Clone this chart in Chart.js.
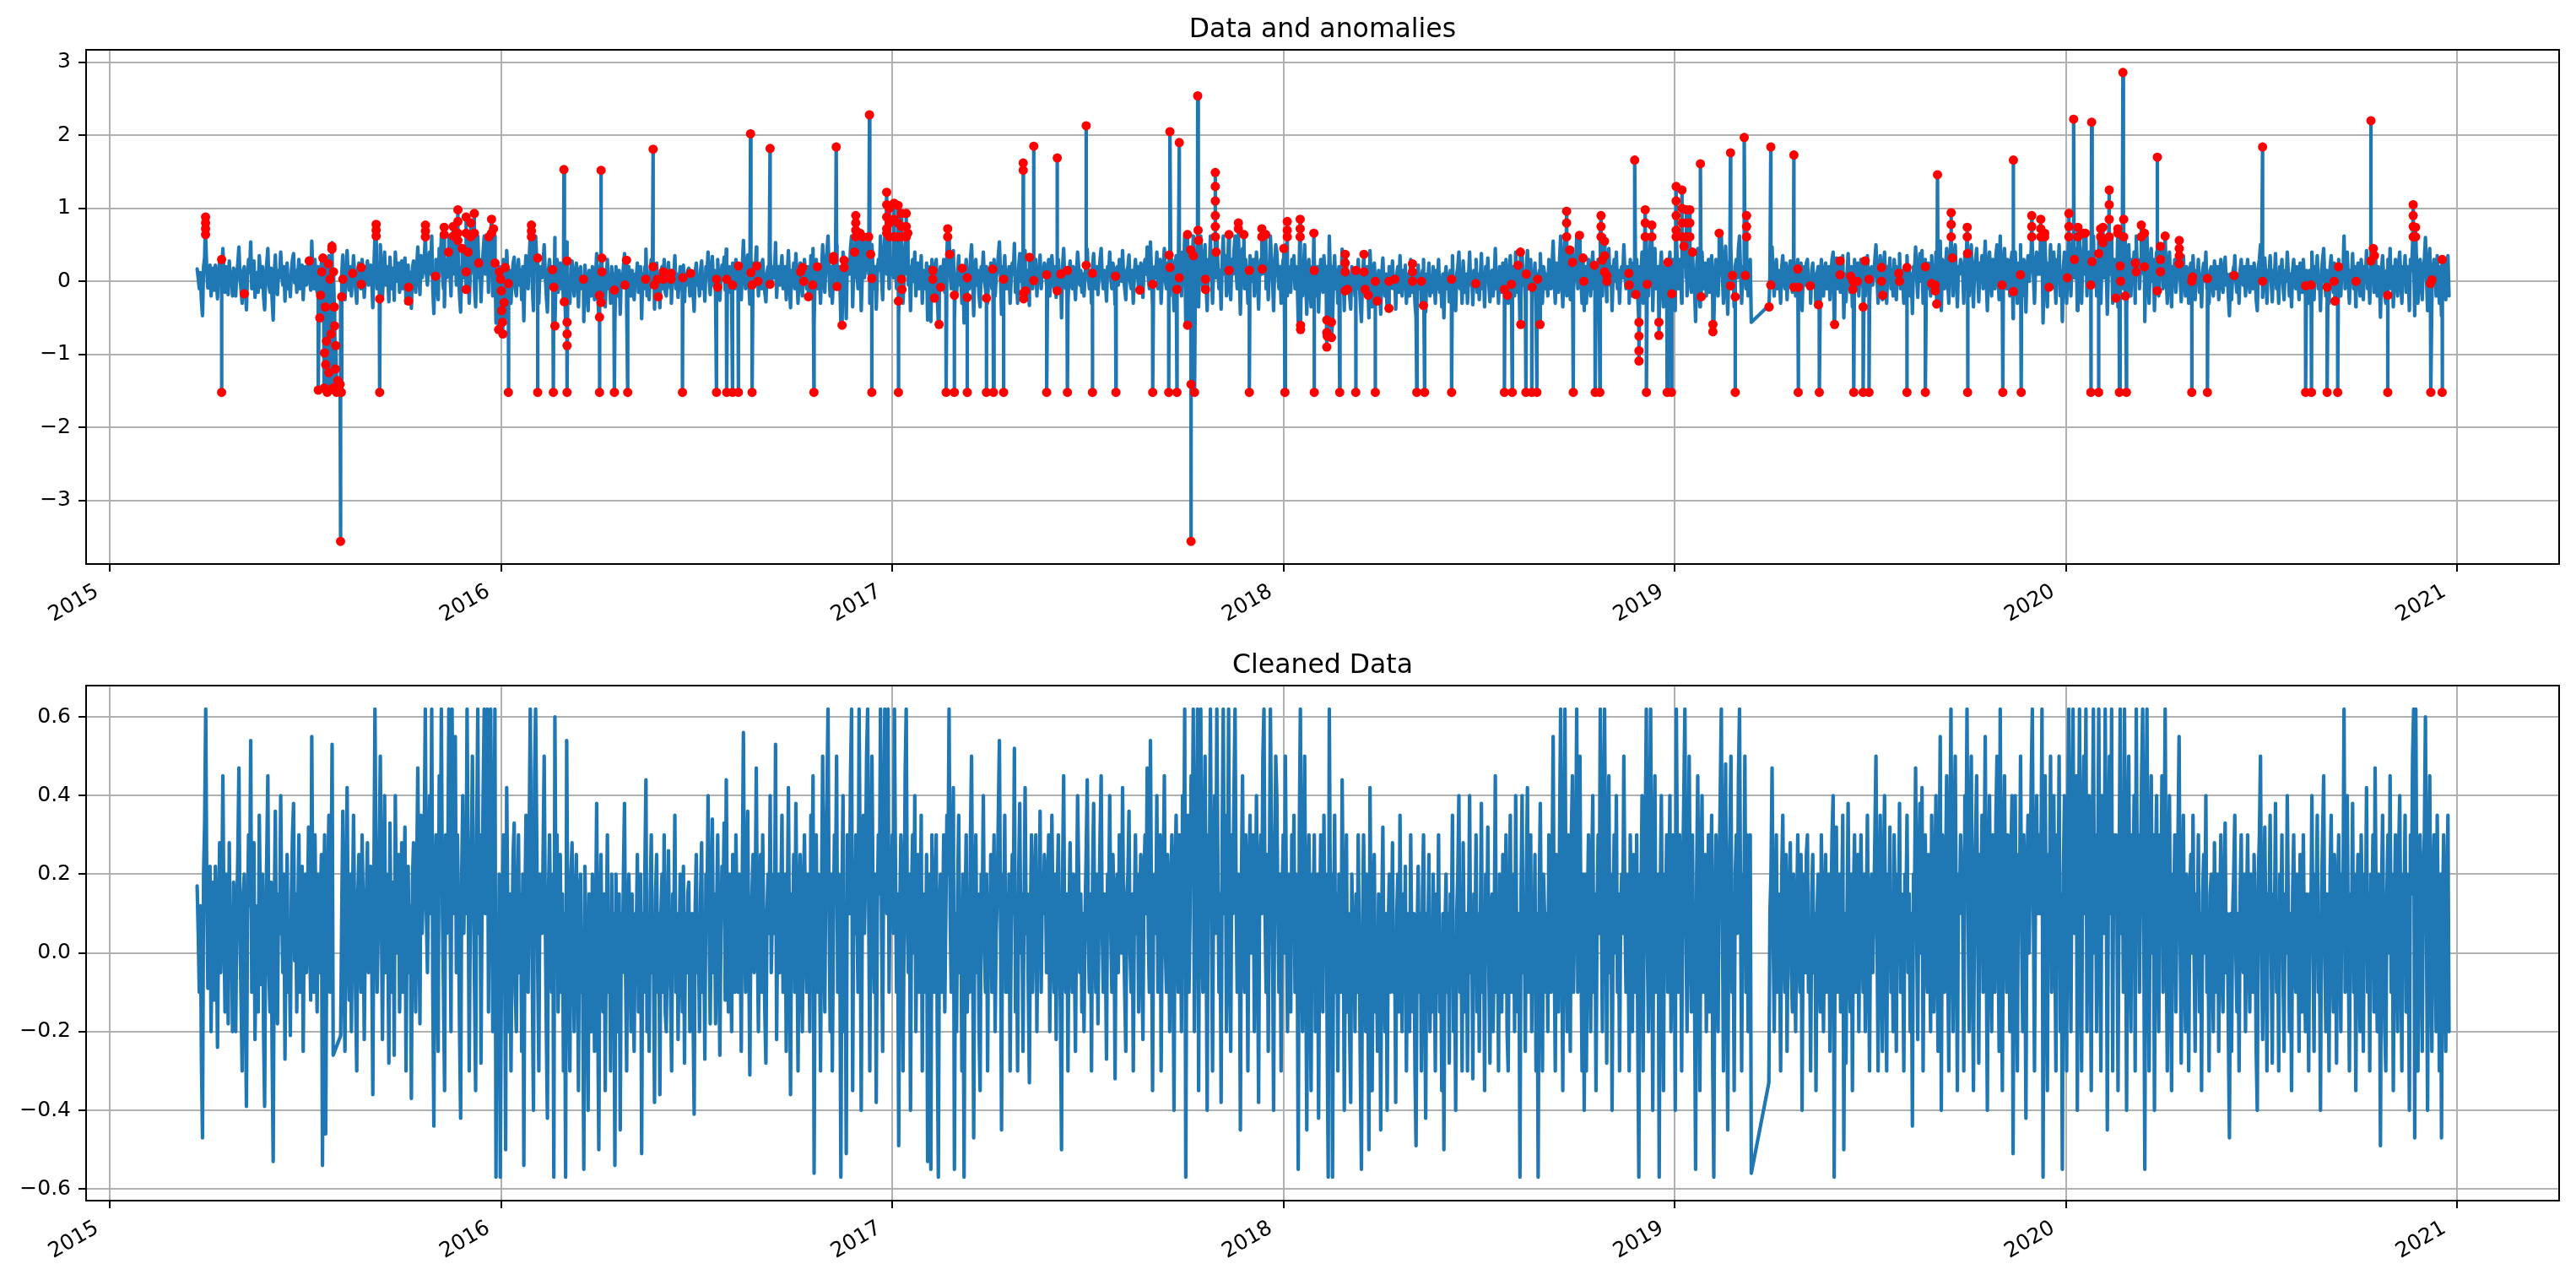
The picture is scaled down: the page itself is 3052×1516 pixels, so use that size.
<!DOCTYPE html>
<html lang="en">
<head>
<meta charset="UTF-8">
<title>Data and anomalies</title>
<script src="https://cdn.jsdelivr.net/npm/chart.js@4"></script>
<style>
  html, body { margin: 0; padding: 0; background: #fff; }
  canvas { position: absolute; left: 0; }
  #topChart { top: 0; }
  #bottomChart { top: 760px; }
</style>
</head>
<body>
<canvas id="topChart" width="3052" height="760"></canvas>
<canvas id="bottomChart" width="3052" height="756"></canvas>
<script>
// Axis tick values
const yearTicks = [2015, 2016, 2017, 2018, 2019, 2020, 2021];
const topTicks = [-3, -2, -1, 0, 1, 2, 3];
const bottomTicks = [-0.6, -0.4, -0.2, 0, 0.2, 0.4, 0.6];

// Cleaned series, one reading per day (x in decimal years), two runs with a gap in spring 2019.
// null = day removed as an anomaly.
const stepYears = 1 / 365.25;
const runAStart = 2015.2235;
const runA = [
  0.17, 0.05, -0.1, 0.12, -0.27, -0.47, 0.2, 0.33, 0.62, 0.15, -0.09, 0.1, 0.22, -0.2, 0.05, 0.18, -0.12, 0.22, 0.02, -0.24, 0.1, 0.28, -0.05, 0.12, 0.45, 0.08, -0.15, 0.2, 0.05, -0.18, 0.28, -0.05, 0.12, -0.2, 0.18, 0.06,
  -0.2, 0.1, 0.25, 0.47, 0.05, -0.12, -0.3, 0.15, 0.2, -0.1, -0.39, 0.08, 0.3, 0.12, 0.54, -0.1, 0.05, 0.28, -0.22, 0.02, 0.12, -0.15, 0.35, 0.1, -0.08, 0.2, -0.2, -0.39, 0.08, 0.25, 0.45, -0.05, -0.15, 0.18, -0.25, -0.53,
  0.1, 0.36, -0.05, -0.18, 0.15, 0.05, 0.4, 0.1, -0.05, 0.2, -0.27, 0.08, 0.25, -0.1, 0.02, -0.21, 0.15, 0.3, 0.38, -0.02, 0.15, -0.15, 0.1, 0.3, -0.1, 0.05, 0.22, -0.25, 0.12, 0.2, -0.05, 0.1, 0.32, 0.05, -0.12, 0.55,
  0.1, -0.1, 0.3, 0.05, -0.15, 0.2, -0.05, 0.12, 0.25, -0.54, 0.1, 0.3, -0.46, 0.05, 0.2, 0.35, -0.1, 0.15, 0.53, -0.26, null, null, null, null, null, null, -0.21, 0.1, 0.36, -0.05, -0.25, 0.12, 0.42, 0.05, -0.12, 0.2,
  -0.2, 0.1, 0.35, 0.08, -0.12, -0.3, 0.15, 0.25, 0.02, -0.1, 0.3, 0.12, -0.22, 0.05, 0.15, 0.28, -0.05, 0.1, 0.22, 0.0, -0.36, 0.18, 0.62, 0.2, -0.1, 0.05, 0.25, 0.5, 0.1, -0.22, 0.12, 0.4, -0.05, 0.2, 0.05, -0.28,
  0.33, 0.05, -0.1, 0.18, -0.26, 0.4, 0.1, 0.0, 0.25, -0.15, 0.05, 0.28, -0.1, 0.15, 0.32, -0.3, 0.1, 0.22, -0.05, 0.12, -0.37, 0.18, 0.28, 0.05, -0.15, 0.2, 0.47, 0.1, -0.18, 0.35, 0.05, 0.15, 0.3, 0.62, 0.1, -0.05,
  0.2, 0.4, 0.1, 0.62, -0.1, -0.44, 0.15, 0.3, -0.05, -0.25, 0.45, 0.2, 0.62, 0.1, -0.1, -0.35, 0.3, 0.05, 0.2, 0.62, 0.15, -0.2, 0.62, 0.1, 0.25, 0.55, -0.05, 0.3, 0.1, -0.2, -0.42, 0.2, 0.4, 0.05, 0.3, 0.1,
  0.62, 0.2, -0.3, 0.1, 0.25, 0.5, 0.15, -0.1, -0.35, 0.3, 0.62, 0.05, 0.3, -0.28, 0.15, 0.4, 0.62, 0.1, 0.2, 0.62, -0.15, 0.25, 0.62, 0.3, -0.2, 0.1, 0.62, -0.57, 0.05, -0.3, 0.2, -0.57, -0.1, 0.15, 0.3, 0.1,
  -0.5, 0.42, 0.1, -0.2, 0.15, -0.3, 0.05, 0.25, 0.33, -0.1, -0.2, 0.1, 0.3, -0.05, 0.15, -0.25, 0.2, -0.54, 0.1, 0.35, 0.15, -0.1, 0.3, 0.62, 0.2, -0.1, -0.4, 0.45, 0.62, 0.3, -0.05, -0.3, 0.2, 0.1, 0.05, 0.25,
  0.5, 0.1, -0.2, -0.42, 0.15, 0.3, 0.05, -0.1, 0.2, -0.57, 0.6, 0.1, 0.3, -0.15, 0.05, 0.25, -0.1, 0.15, -0.3, 0.1, -0.57, 0.54, 0.05, -0.1, -0.3, 0.2, 0.28, 0.0, -0.2, 0.1, 0.25, 0.05, -0.35, 0.15, 0.2, -0.1,
  -0.1, -0.55, 0.22, 0.05, -0.1, -0.4, 0.15, 0.0, -0.2, 0.2, 0.1, -0.25, 0.05, 0.38, -0.15, -0.5, 0.1, 0.25, -0.05, -0.15, 0.15, -0.35, 0.05, 0.3, -0.1, 0.05, -0.3, 0.2, -0.1, 0.1, -0.54, 0.2, -0.05, -0.2, 0.15, -0.45,
  0.1, -0.05, 0.2, 0.38, -0.05, -0.3, 0.1, 0.2, 0.05, -0.2, 0.15, -0.1, -0.25, 0.1, 0.05, 0.25, -0.15, 0.0, 0.2, -0.51, 0.1, -0.1, 0.2, 0.44, -0.2, 0.05, -0.25, 0.15, 0.3, -0.05, 0.0, -0.38, 0.15, 0.25, -0.1, 0.1,
  -0.36, 0.1, 0.2, -0.1, 0.3, -0.15, -0.2, 0.05, 0.26, 0.0, -0.1, -0.3, 0.15, 0.05, 0.35, -0.1, 0.1, -0.22, 0.0, 0.2, 0.05, -0.15, 0.22, -0.28, 0.1, -0.05, 0.15, 0.18, -0.2, 0.05, 0.1, -0.15, -0.41, 0.12, 0.25, -0.05,
  0.05, -0.2, 0.15, 0.28, -0.1, 0.05, -0.27, 0.2, 0.1, 0.4, 0.05, -0.18, 0.1, 0.34, -0.05, 0.15, -0.18, 0.1, 0.3, 0.0, -0.26, 0.05, 0.22, 0.1, 0.33, -0.12, 0.44, 0.05, -0.15, 0.2, 0.1, -0.2, 0.25, 0.05, -0.1, 0.3,
  0.1, -0.1, 0.2, 0.05, -0.25, 0.2, 0.56, 0.1, -0.1, 0.15, 0.36, 0.0, -0.31, 0.1, 0.15, 0.25, -0.05, 0.1, 0.47, 0.05, -0.2, 0.1, 0.25, -0.1, 0.3, 0.05, -0.15, -0.28, 0.1, 0.2, 0.05, 0.4, -0.05, 0.1, 0.2, 0.05,
  0.53, -0.22, 0.1, 0.2, -0.05, 0.15, 0.35, -0.1, 0.05, 0.2, -0.25, 0.1, 0.42, 0.0, -0.36, 0.15, 0.05, 0.25, -0.1, 0.38, 0.05, -0.3, 0.1, 0.25, 0.0, -0.2, 0.15, 0.3, 0.05, -0.1, 0.2, 0.1, -0.2, 0.35, 0.1, 0.45,
  -0.56, 0.1, 0.3, -0.1, 0.2, 0.05, -0.3, 0.15, 0.5, 0.1, -0.15, 0.25, 0.4, 0.62, 0.1, -0.2, 0.2, -0.3, 0.05, 0.3, 0.15, 0.5, -0.1, 0.2, 0.05, -0.57, 0.15, 0.4, -0.2, 0.1, -0.51, 0.3, 0.15, 0.1, 0.45, 0.62,
  -0.35, 0.2, 0.05, 0.3, 0.1, -0.1, 0.62, 0.2, -0.4, 0.1, 0.35, 0.05, 0.2, 0.5, 0.62, 0.1, -0.3, 0.2, 0.5, 0.15, -0.1, 0.2, -0.38, 0.1, 0.3, 0.15, 0.62, 0.05, -0.25, 0.3, 0.62, 0.4, 0.1, 0.62, -0.1, 0.2,
  0.1, 0.3, 0.05, 0.62, 0.2, -0.1, 0.15, -0.49, 0.1, 0.3, 0.2, -0.3, 0.05, 0.45, 0.62, 0.1, -0.05, 0.2, -0.4, 0.15, 0.3, 0.0, 0.4, -0.2, 0.1, 0.25, -0.1, 0.05, 0.35, -0.3, 0.15, 0.1, -0.1, 0.25, -0.53, 0.1,
  0.2, -0.55, 0.3, 0.05, -0.1, 0.15, 0.3, -0.2, -0.57, 0.1, 0.2, -0.1, 0.05, 0.3, -0.15, 0.1, 0.35, 0.2, 0.62, 0.1, -0.1, 0.2, 0.42, -0.55, 0.1, -0.2, 0.15, 0.35, -0.05, 0.1, -0.3, 0.2, -0.57, 0.1, 0.3, -0.15,
  0.1, -0.1, 0.3, 0.5, 0.05, -0.47, 0.1, 0.3, -0.05, 0.15, -0.2, -0.35, 0.2, 0.1, 0.4, 0.0, -0.1, 0.2, -0.3, 0.15, 0.05, 0.25, -0.1, 0.1, 0.3, -0.2, 0.05, 0.15, 0.35, 0.54, 0.1, -0.45, 0.2, 0.05, 0.35, -0.1,
  0.15, -0.1, 0.2, -0.3, 0.05, 0.25, 0.1, 0.52, -0.15, 0.05, -0.3, 0.2, 0.38, 0.0, 0.15, -0.25, 0.1, 0.42, 0.05, 0.15, -0.1, -0.33, 0.1, 0.3, -0.1, 0.05, 0.2, 0.3, -0.2, 0.1, 0.05, 0.36, -0.1, 0.15, 0.1, 0.25,
  0.2, -0.05, 0.1, 0.3, -0.2, 0.05, 0.35, 0.1, -0.1, 0.2, -0.22, 0.15, 0.3, 0.05, -0.15, -0.5, 0.2, 0.45, 0.0, -0.1, 0.15, -0.3, 0.1, 0.28, 0.05, -0.1, 0.2, 0.0, -0.25, 0.1, 0.4, 0.2, -0.05, 0.15, -0.15, 0.1,
  -0.2, 0.1, 0.25, 0.44, 0.05, -0.1, 0.15, -0.3, 0.2, 0.38, 0.05, -0.1, 0.2, -0.18, 0.1, 0.3, 0.45, 0.05, -0.1, 0.15, 0.0, -0.27, 0.2, 0.1, 0.4, 0.05, -0.1, 0.25, 0.1, -0.32, 0.15, 0.2, -0.05, 0.3, 0.1, 0.0,
  0.42, 0.05, -0.1, -0.25, 0.15, 0.2, 0.36, 0.0, -0.1, 0.15, -0.3, 0.1, 0.3, 0.05, 0.2, -0.15, 0.1, 0.25, 0.0, -0.22, 0.2, 0.3, 0.1, 0.47, 0.05, -0.1, 0.54, 0.1, -0.35, 0.15, 0.2, 0.05, 0.4, -0.1, 0.1, 0.3,
  -0.3, 0.1, 0.2, 0.45, 0.0, -0.1, 0.25, 0.1, -0.2, 0.15, 0.3, 0.05, -0.4, 0.2, 0.35, 0.1, -0.1, 0.3, 0.15, -0.2, 0.4, 0.1, 0.62, -0.57, 0.2, 0.35, -0.1, 0.1, 0.45, 0.2, 0.62, -0.2, 0.15, 0.3, 0.62, -0.35,
  0.3, 0.62, 0.1, -0.1, 0.2, 0.5, 0.05, -0.4, 0.3, 0.15, 0.62, 0.1, -0.3, 0.2, 0.4, 0.05, 0.62, 0.2, -0.1, 0.15, -0.38, 0.3, 0.62, 0.1, 0.35, -0.2, 0.15, 0.62, 0.0, -0.25, 0.3, 0.1, 0.4, 0.62, 0.15, -0.1,
  0.2, 0.1, -0.45, 0.2, 0.45, 0.05, -0.1, 0.3, 0.1, -0.3, 0.2, 0.35, 0.0, 0.15, 0.3, -0.2, 0.1, 0.4, 0.05, -0.38, 0.2, 0.3, 0.1, 0.5, 0.62, 0.1, -0.1, 0.25, -0.25, 0.15, 0.62, 0.3, 0.05, -0.4, 0.2, 0.5,
  0.4, 0.1, -0.1, 0.2, -0.3, 0.15, 0.3, 0.0, 0.5, 0.1, -0.2, 0.2, 0.05, -0.15, 0.3, 0.1, 0.35, -0.1, 0.2, 0.05, -0.55, 0.3, 0.62, 0.1, -0.2, 0.2, 0.5, 0.0, -0.45, 0.15, 0.3, -0.05, -0.35, 0.2, 0.1, 0.3,
  -0.2, 0.1, 0.2, -0.42, 0.05, 0.3, 0.1, -0.15, 0.35, 0.0, 0.2, -0.2, -0.57, 0.62, 0.1, 0.2, -0.57, 0.05, 0.35, -0.1, 0.15, -0.3, 0.2, 0.05, -0.1, 0.44, 0.1, -0.4, 0.05, 0.3, -0.15, 0.1, -0.2, -0.38, 0.2, 0.05,
  0.1, -0.2, 0.15, -0.1, 0.3, 0.0, -0.3, -0.55, 0.05, 0.3, 0.1, -0.2, 0.2, -0.1, -0.5, 0.42, 0.05, -0.35, 0.1, 0.25, -0.15, 0.0, -0.25, 0.15, 0.05, -0.45, 0.1, 0.32, -0.05, -0.2, 0.1, -0.4, 0.05, 0.2, -0.1, 0.0,
  0.28, -0.1, 0.05, -0.38, 0.1, 0.2, -0.15, 0.35, 0.0, -0.2, 0.15, -0.1, 0.22, -0.3, 0.05, 0.1, -0.2, 0.3, 0.0, -0.15, 0.1, -0.3, -0.49, 0.05, 0.22, -0.1, 0.1, -0.3, 0.15, 0.3, -0.05, -0.42, 0.1, 0.0, 0.25, -0.2,
  0.05, -0.15, 0.2, 0.0, -0.3, 0.15, -0.1, 0.3, -0.15, 0.05, -0.35, 0.1, -0.5, 0.05, 0.2, -0.1, 0.1, -0.28, 0.15, 0.05, 0.35, -0.2, 0.0, -0.4, 0.1, 0.2, 0.4, -0.1, 0.05, -0.3, 0.28, 0.0, -0.15, 0.1, -0.3, 0.05,
  0.4, -0.05, 0.1, -0.32, 0.15, 0.0, 0.3, -0.15, 0.1, -0.25, 0.05, 0.38, -0.1, 0.1, -0.35, 0.2, 0.0, 0.32, -0.05, -0.28, 0.1, 0.15, -0.2, 0.05, 0.45, -0.1, 0.1, -0.3, 0.2, 0.05, -0.15, 0.25, -0.1, 0.1, 0.3, -0.2,
  -0.3, 0.1, 0.35, -0.1, 0.05, 0.2, -0.2, 0.4, 0.0, -0.15, 0.1, -0.57, 0.15, 0.4, -0.05, 0.1, -0.25, 0.2, 0.42, -0.1, 0.05, 0.3, -0.2, 0.1, 0.0, 0.25, -0.3, 0.1, -0.57, 0.15, 0.38, 0.0, -0.3, 0.2, 0.1, -0.1,
  0.1, -0.2, 0.3, 0.05, -0.1, 0.2, 0.55, 0.0, -0.3, 0.25, 0.1, -0.15, 0.3, 0.62, 0.05, -0.35, 0.2, 0.62, 0.1, -0.2, 0.3, 0.05, -0.25, 0.3, 0.45, -0.1, 0.1, 0.2, 0.62, -0.1, 0.15, 0.5, 0.0, -0.3, 0.2, -0.4,
  0.2, -0.3, 0.1, 0.3, 0.05, -0.2, 0.2, 0.4, -0.1, 0.15, -0.35, 0.1, 0.3, 0.05, 0.62, 0.1, -0.2, 0.35, 0.62, 0.2, -0.28, 0.1, 0.45, -0.05, 0.2, -0.4, 0.1, 0.3, 0.0, 0.4, -0.1, 0.15, -0.3, 0.1, 0.2, 0.05,
  0.5, 0.1, -0.1, 0.2, 0.05, -0.3, 0.3, 0.1, -0.2, 0.25, 0.05, -0.1, 0.3, -0.2, -0.57, 0.2, 0.1, 0.4, -0.3, 0.15, 0.3, 0.62, 0.0, -0.2, 0.3, 0.62, 0.1, -0.4, 0.2, 0.45, -0.1, 0.1, 0.2, -0.57, 0.15, 0.4,
  0.0, -0.35, 0.2, 0.1, 0.3, -0.1, 0.15, 0.4, -0.2, 0.05, 0.3, 0.1, -0.4, 0.62, 0.2, -0.1, 0.3, 0.1, -0.3, 0.2, 0.4, 0.62, 0.05, -0.2, 0.15, 0.5, 0.1, -0.15, 0.3, 0.0, -0.1, -0.55, 0.2, 0.45, 0.1, -0.35,
  0.2, 0.4, -0.1, 0.1, 0.25, -0.2, 0.05, 0.3, -0.15, 0.15, 0.35, -0.3, -0.57, 0.1, 0.3, 0.05, -0.2, 0.2, 0.4, 0.62, 0.1, -0.3, 0.2, 0.48, 0.0, -0.45, 0.15, 0.3, 0.5, -0.1, 0.1, -0.35, 0.2, 0.3, 0.05, 0.45,
  0.62, 0.1, -0.3, 0.2, 0.05, 0.5, -0.1, 0.3, -0.2, 0.15, 0.3, -0.56
];
const runBStart = 2019.241;
const runB = [
  -0.33, 0.1, 0.2, 0.47, 0.05, -0.2, 0.1, 0.3, -0.1, 0.15, 0.0, -0.3, 0.2, 0.35, 0.05, -0.1, 0.25, -0.25, 0.1, 0.15, 0.28, -0.05, -0.15, 0.2, 0.05, -0.2, 0.1, 0.3, 0.0, -0.1, 0.25, -0.4, 0.1, 0.2, -0.05, 0.25,
  0.3, -0.1, 0.05, -0.3, 0.15, 0.25, -0.05, 0.1, -0.35, 0.1, 0.2, 0.0, -0.15, 0.3, 0.05, -0.2, 0.1, 0.25, -0.1, 0.05, 0.2, -0.25, 0.1, 0.3, 0.4, -0.57, 0.2, 0.32, -0.1, 0.05, 0.2, -0.15, 0.1, 0.35, -0.5, 0.1,
  -0.28, 0.1, 0.38, 0.0, -0.15, 0.2, -0.35, 0.15, 0.3, -0.1, 0.05, 0.25, -0.2, 0.1, 0.3, 0.05, -0.1, 0.2, -0.2, 0.1, 0.35, 0.0, -0.3, 0.15, 0.2, -0.05, 0.1, 0.3, 0.5, 0.05, -0.3, 0.1, 0.35, 0.0, -0.25, 0.2,
  0.4, 0.0, -0.3, 0.2, 0.05, 0.32, -0.1, 0.15, -0.2, 0.3, 0.1, -0.25, 0.2, 0.05, 0.38, -0.1, 0.15, 0.0, -0.3, 0.2, 0.1, 0.35, -0.05, 0.15, -0.2, 0.1, -0.44, 0.2, 0.15, 0.47, 0.05, -0.22, 0.2, 0.38, 0.0, 0.42,
  -0.3, 0.15, 0.3, 0.0, -0.1, 0.25, 0.1, -0.2, 0.35, 0.05, -0.15, 0.2, 0.4, 0.0, -0.25, 0.2, 0.55, -0.4, 0.3, 0.1, -0.1, 0.2, 0.45, 0.0, -0.3, 0.25, 0.62, 0.1, -0.2, 0.3, 0.5, 0.05, -0.35, 0.2, 0.1, 0.3,
  0.2, 0.1, -0.3, 0.4, 0.2, 0.62, 0.1, -0.2, 0.3, 0.5, 0.0, -0.35, 0.15, 0.3, 0.45, 0.05, -0.28, 0.25, 0.1, 0.35, -0.1, 0.2, 0.55, 0.0, -0.4, 0.2, 0.4, 0.05, -0.2, 0.3, 0.1, -0.1, 0.35, 0.5, 0.05, -0.25,
  0.62, 0.05, -0.35, 0.2, 0.45, 0.1, -0.1, 0.3, 0.15, -0.2, 0.25, 0.4, -0.51, 0.15, 0.4, 0.0, -0.3, 0.25, 0.1, 0.5, 0.05, -0.2, 0.3, 0.1, -0.42, 0.2, 0.35, 0.0, 0.2, 0.45, 0.62, 0.1, -0.3, 0.2, 0.4, 0.1,
  0.3, 0.1, 0.2, 0.62, -0.57, 0.2, 0.45, 0.0, -0.35, 0.25, 0.1, 0.5, -0.1, 0.2, 0.4, 0.05, -0.3, 0.3, 0.1, 0.5, -0.2, 0.15, -0.55, 0.2, 0.4, 0.1, -0.3, 0.3, 0.62, 0.1, -0.2, 0.3, 0.62, 0.05, 0.2, 0.45,
  -0.4, 0.2, 0.62, 0.05, -0.3, 0.3, 0.5, 0.1, 0.62, -0.2, 0.25, 0.4, 0.1, -0.35, 0.25, 0.62, 0.0, 0.3, -0.2, 0.2, 0.62, 0.1, -0.3, 0.4, 0.2, 0.05, 0.62, 0.2, -0.45, 0.2, 0.5, 0.1, 0.62, -0.3, 0.3, 0.15,
  0.3, 0.1, -0.35, 0.2, 0.62, 0.05, 0.3, -0.1, 0.62, 0.2, -0.4, 0.25, 0.5, 0.05, -0.2, 0.3, 0.1, 0.4, -0.3, 0.62, 0.15, 0.3, -0.1, 0.2, 0.45, 0.62, 0.1, -0.55, 0.3, 0.62, 0.1, -0.3, 0.2, 0.45, 0.0, 0.3,
  -0.4, 0.2, 0.4, 0.05, -0.2, 0.3, 0.1, 0.45, -0.1, 0.2, 0.62, 0.05, -0.3, 0.15, 0.4, 0.0, -0.35, 0.2, 0.1, 0.3, -0.15, 0.1, 0.3, 0.55, 0.05, -0.28, 0.1, 0.35, 0.0, -0.2, 0.2, 0.05, -0.3, 0.15, 0.25, 0.0,
  0.35, 0.0, -0.25, 0.15, 0.05, 0.3, -0.15, 0.1, -0.35, 0.15, 0.25, 0.0, 0.4, -0.1, 0.05, -0.3, 0.15, 0.2, 0.0, -0.2, 0.28, 0.05, -0.1, 0.2, -0.25, 0.1, 0.3, 0.0, -0.15, 0.15, 0.33, -0.05, 0.1, -0.2, -0.47, 0.1,
  -0.25, 0.1, 0.2, 0.35, 0.0, -0.15, 0.1, -0.3, 0.15, 0.3, 0.0, -0.05, 0.2, -0.2, 0.1, 0.3, 0.05, -0.15, 0.2, 0.0, -0.1, 0.25, 0.1, -0.25, -0.4, 0.2, 0.3, 0.5, 0.0, -0.22, 0.1, 0.32, 0.05, -0.3, 0.15, 0.1,
  0.35, 0.0, -0.28, 0.15, 0.05, 0.38, -0.1, 0.1, -0.3, 0.2, 0.05, 0.3, -0.05, -0.25, 0.15, 0.0, 0.4, 0.1, -0.2, 0.1, -0.35, 0.15, 0.3, 0.0, -0.1, 0.2, 0.05, -0.25, 0.25, 0.1, -0.15, 0.3, 0.0, -0.2, 0.15, 0.05,
  -0.3, 0.15, 0.05, 0.4, 0.0, -0.25, 0.2, 0.1, 0.35, -0.1, 0.05, -0.4, 0.15, 0.3, 0.45, 0.0, -0.2, 0.15, 0.05, -0.3, 0.2, 0.35, 0.0, -0.15, 0.25, 0.1, -0.28, 0.15, 0.3, 0.05, -0.2, 0.2, 0.1, 0.62, -0.1, 0.15,
  0.4, 0.0, -0.3, 0.15, 0.05, 0.38, -0.1, 0.2, -0.35, 0.1, 0.25, 0.0, -0.2, 0.3, 0.1, -0.25, 0.2, 0.05, 0.42, -0.1, 0.15, -0.3, 0.2, 0.05, 0.3, -0.15, 0.47, 0.1, -0.2, 0.2, 0.05, -0.49, 0.15, 0.35, 0.05, -0.2,
  -0.3, 0.15, 0.3, 0.0, 0.45, -0.1, 0.2, -0.35, 0.1, 0.3, 0.05, -0.2, 0.25, 0.4, 0.0, -0.3, 0.2, 0.1, 0.35, -0.15, 0.2, 0.05, -0.4, 0.3, 0.15, 0.5, 0.62, -0.47, 0.62, 0.1, -0.3, 0.2, 0.3, 0.0, -0.25, 0.2,
  0.3, 0.6, 0.05, -0.4, 0.2, 0.45, 0.0, -0.25, 0.15, 0.3, 0.1, -0.2, 0.35, 0.05, -0.3, 0.2, -0.47, 0.1, 0.3, 0.0, -0.25, 0.15, 0.35, -0.2
];

// Anomalies flagged in the raw data: [decimal year, value]
const anomalies = [
  [2015.245, 0.88], [2015.245, 0.80], [2015.245, 0.72], [2015.245, 0.64],
  [2015.286, 0.30], [2015.286, -1.52], [2015.344, -0.17], [2015.510, 0.28],
  [2015.533, -1.49], [2015.537, -0.50], [2015.539, -0.19], [2015.542, 0.13], [2015.545, 0.32],
  [2015.548, -1.46], [2015.549, -0.98], [2015.551, -0.35], [2015.552, -1.14], [2015.554, -0.82],
  [2015.556, -1.52], [2015.559, 0.24], [2015.560, -1.25], [2015.562, -1.49], [2015.563, 0.03],
  [2015.566, -0.72], [2015.568, 0.48], [2015.568, 0.44], [2015.571, -1.46], [2015.572, 0.13],
  [2015.574, -0.35], [2015.575, -0.61], [2015.577, -1.20], [2015.578, -0.88], [2015.580, -1.52],
  [2015.583, -1.36], [2015.586, -1.49], [2015.589, -1.41], [2015.590, -3.56], [2015.592, -1.52],
  [2015.593, -0.21], [2015.596, 0.03],
  [2015.621, 0.11], [2015.643, 0.19], [2015.643, -0.04],
  [2015.681, 0.78], [2015.681, 0.70], [2015.681, 0.62], [2015.690, -0.24], [2015.690, -1.52],
  [2015.764, -0.08], [2015.764, -0.27], [2015.807, 0.77], [2015.807, 0.69], [2015.807, 0.61],
  [2015.833, 0.07], [2015.855, 0.74], [2015.855, 0.64], [2015.866, 0.40],
  [2015.878, 0.75], [2015.878, 0.62], [2015.890, 0.98], [2015.890, 0.82], [2015.890, 0.66], [2015.890, 0.56],
  [2015.901, 0.45], [2015.911, 0.88], [2015.911, 0.66], [2015.911, 0.13], [2015.911, -0.11],
  [2015.916, 0.40], [2015.923, 0.80], [2015.923, 0.61], [2015.932, 0.93], [2015.932, 0.66],
  [2015.943, 0.25], [2015.969, 0.61], [2015.976, 0.85], [2015.976, 0.66], [2015.981, 0.72],
  [2015.985, 0.25], [2015.994, -0.66], [2015.996, 0.13], [2015.999, 0.03], [2016.001, -0.13],
  [2016.002, -0.40], [2016.004, -0.56], [2016.005, -0.72], [2016.008, -0.29], [2016.011, 0.19],
  [2016.019, -0.03], [2016.019, -1.52],
  [2016.078, 0.77], [2016.078, 0.69], [2016.078, 0.61], [2016.094, 0.32], [2016.094, -1.52],
  [2016.132, 0.16], [2016.134, -1.52], [2016.135, -0.08], [2016.138, -0.61],
  [2016.161, 1.53], [2016.162, -0.28],
  [2016.169, 0.28], [2016.169, -0.56], [2016.169, -0.72], [2016.169, -0.88], [2016.169, -1.52],
  [2016.211, 0.03], [2016.252, -0.19], [2016.252, -0.49], [2016.252, -1.52],
  [2016.256, 1.52], [2016.256, -0.29], [2016.258, 0.32], [2016.258, 0.13],
  [2016.290, -0.12], [2016.290, -1.52], [2016.317, -0.05], [2016.321, 0.29], [2016.324, -1.52],
  [2016.370, 0.03], [2016.389, 1.81], [2016.389, 0.20], [2016.392, -0.05], [2016.400, 0.03],
  [2016.402, -0.21], [2016.415, 0.13], [2016.415, 0.03], [2016.435, 0.03], [2016.435, 0.11],
  [2016.464, -1.52], [2016.465, 0.05], [2016.485, 0.11],
  [2016.551, -1.52], [2016.551, 0.03], [2016.554, -0.08], [2016.577, 0.03], [2016.577, -1.52],
  [2016.592, -1.52], [2016.592, -0.05], [2016.607, -1.52], [2016.607, 0.21],
  [2016.638, 2.02], [2016.639, 0.12], [2016.642, -0.05], [2016.642, -1.52],
  [2016.654, 0.21], [2016.657, 0.00], [2016.688, 1.82], [2016.688, -0.04],
  [2016.766, 0.13], [2016.771, 0.19], [2016.774, 0.00], [2016.786, -0.21], [2016.797, -0.05],
  [2016.800, -1.52], [2016.809, 0.20],
  [2016.850, 0.34], [2016.850, 0.29], [2016.857, 1.84], [2016.859, -0.07], [2016.872, -0.60],
  [2016.877, 0.29], [2016.877, 0.19],
  [2016.904, 0.40], [2016.907, 0.90], [2016.907, 0.80], [2016.907, 0.70], [2016.907, 0.61],
  [2016.918, 0.66], [2016.925, 0.61], [2016.940, 0.61], [2016.942, 2.28], [2016.945, 0.37],
  [2016.948, 0.04], [2016.948, -1.52],
  [2016.986, 1.22], [2016.986, 1.05], [2016.986, 0.88], [2016.986, 0.72], [2016.986, 0.66],
  [2016.993, 1.00], [2016.993, 0.80], [2016.993, 0.61],
  [2017.005, 1.07], [2017.005, 0.85], [2017.005, 0.61], [2017.015, 1.04], [2017.015, 0.80], [2017.015, 0.61],
  [2017.016, -0.27], [2017.016, -1.52],
  [2017.024, 0.93], [2017.024, 0.75], [2017.024, 0.61], [2017.024, 0.03], [2017.025, -0.11],
  [2017.036, 0.93], [2017.036, 0.75], [2017.036, 0.61], [2017.040, 0.66],
  [2017.104, 0.15], [2017.104, 0.03], [2017.108, -0.23], [2017.120, -0.59], [2017.124, -0.08],
  [2017.138, -1.52], [2017.142, 0.72], [2017.142, 0.61], [2017.147, 0.37], [2017.159, -0.19],
  [2017.159, -1.52], [2017.179, 0.18], [2017.192, 0.05], [2017.192, -0.22], [2017.192, -1.52],
  [2017.241, -0.23], [2017.241, -1.52], [2017.257, 0.17], [2017.259, -1.52], [2017.285, 0.03], [2017.285, -1.52],
  [2017.335, 1.62], [2017.335, 1.52], [2017.336, -0.16], [2017.336, -0.24], [2017.341, -0.13],
  [2017.351, 0.33], [2017.362, 1.85], [2017.362, 0.01],
  [2017.395, 0.09], [2017.395, -1.52], [2017.422, 1.69], [2017.422, -0.13], [2017.431, 0.10],
  [2017.448, 0.15], [2017.448, -1.52], [2017.496, 2.13], [2017.496, 0.22], [2017.512, 0.11], [2017.512, -1.52],
  [2017.571, 0.07], [2017.572, -1.52], [2017.633, -0.12], [2017.666, -0.04], [2017.666, -1.52],
  [2017.707, -1.52], [2017.708, 0.36], [2017.710, 0.19], [2017.710, 2.05],
  [2017.728, -1.52], [2017.728, -0.11], [2017.734, 1.90], [2017.734, 0.05],
  [2017.755, 0.64], [2017.755, -0.60], [2017.763, 0.43], [2017.764, -1.41], [2017.764, -3.56],
  [2017.770, 0.35], [2017.773, -1.52], [2017.781, 2.54], [2017.782, 0.70], [2017.783, 0.56],
  [2017.801, 0.03], [2017.801, -0.11],
  [2017.826, 1.49], [2017.826, 1.30], [2017.826, 1.10], [2017.826, 0.90], [2017.826, 0.75], [2017.826, 0.61],
  [2017.828, 0.40], [2017.861, 0.64], [2017.861, 0.15], [2017.885, 0.80], [2017.885, 0.72],
  [2017.899, 0.64], [2017.913, 0.15], [2017.913, -1.52],
  [2017.945, 0.72], [2017.945, 0.61], [2017.946, 0.17], [2017.955, 0.64],
  [2018.001, 0.45], [2018.004, -1.52], [2018.010, 0.82], [2018.010, 0.70], [2018.010, 0.61],
  [2018.043, 0.85], [2018.043, 0.72], [2018.043, 0.61], [2018.044, -0.60], [2018.044, -0.66],
  [2018.078, 0.66], [2018.079, 0.15], [2018.079, -1.52],
  [2018.111, -0.53], [2018.111, -0.70], [2018.111, -0.90], [2018.112, -0.75], [2018.123, -0.56], [2018.123, -0.77],
  [2018.144, -1.52], [2018.158, 0.37], [2018.158, 0.25], [2018.158, 0.13], [2018.158, -0.13],
  [2018.164, -0.11], [2018.185, 0.15], [2018.185, -1.52],
  [2018.206, 0.37], [2018.206, 0.13], [2018.209, -0.11], [2018.217, -0.19], [2018.235, 0.00],
  [2018.235, -1.52], [2018.240, -0.27], [2018.270, -0.37], [2018.270, 0.00], [2018.285, 0.03],
  [2018.330, 0.24], [2018.330, 0.13], [2018.330, 0.00], [2018.341, -1.52], [2018.353, 0.00],
  [2018.358, -0.33], [2018.361, -1.52], [2018.430, 0.03], [2018.430, -1.52], [2018.492, -0.03],
  [2018.565, -0.11], [2018.565, -1.52], [2018.573, -0.19], [2018.583, -0.04], [2018.585, -1.52],
  [2018.600, 0.22], [2018.606, 0.40], [2018.607, -0.59], [2018.620, -1.52], [2018.621, 0.10],
  [2018.635, -1.52], [2018.636, -0.08], [2018.648, -1.52], [2018.650, 0.03], [2018.656, -0.59],
  [2018.724, 0.96], [2018.724, 0.80], [2018.724, 0.61], [2018.732, 0.43], [2018.739, 0.26],
  [2018.741, -1.52], [2018.757, 0.63], [2018.766, 0.32], [2018.768, 0.00],
  [2018.795, 0.22], [2018.797, -1.52], [2018.809, -1.52], [2018.812, 0.90], [2018.812, 0.75],
  [2018.812, 0.61], [2018.815, 0.29], [2018.821, 0.55], [2018.821, 0.35], [2018.821, 0.13],
  [2018.827, 0.08], [2018.827, 0.00],
  [2018.883, 0.11], [2018.884, -0.05], [2018.898, 1.66], [2018.901, -0.18],
  [2018.909, -0.56], [2018.909, -0.75], [2018.909, -0.95], [2018.909, -1.09],
  [2018.925, 0.98], [2018.925, 0.80], [2018.925, 0.61], [2018.928, -1.52], [2018.930, -0.04],
  [2018.942, 0.77], [2018.942, 0.61], [2018.960, -0.56], [2018.960, -0.74],
  [2018.981, -1.52], [2018.983, 0.26], [2018.992, -1.52], [2018.993, -0.17],
  [2019.004, 1.30], [2019.004, 1.10], [2019.004, 0.90], [2019.004, 0.70], [2019.004, 0.61],
  [2019.019, 1.25], [2019.019, 1.00], [2019.019, 0.80], [2019.019, 0.61], [2019.024, 0.48],
  [2019.030, 0.98], [2019.030, 0.80], [2019.030, 0.61], [2019.039, 0.98], [2019.039, 0.80], [2019.039, 0.61],
  [2019.046, 0.40], [2019.066, 1.61], [2019.068, -0.21], [2019.098, -0.59], [2019.098, -0.69],
  [2019.114, 0.66], [2019.143, 1.76], [2019.143, -0.06], [2019.148, 0.08], [2019.155, -0.21],
  [2019.155, -1.52], [2019.178, 1.97], [2019.181, 0.08], [2019.184, 0.90], [2019.184, 0.75], [2019.184, 0.61],
  [2019.2415, -0.35], [2019.246, 1.84], [2019.246, -0.05],
  [2019.305, 1.73], [2019.305, -0.08], [2019.315, 0.17], [2019.316, -1.52], [2019.317, -0.08],
  [2019.347, -0.06], [2019.368, -0.32], [2019.370, -1.52],
  [2019.409, -0.59], [2019.423, 0.28], [2019.423, 0.09], [2019.450, 0.07], [2019.456, 0.00],
  [2019.456, -0.11], [2019.458, -1.52], [2019.467, 0.00], [2019.482, -0.35], [2019.482, -1.52],
  [2019.487, 0.28], [2019.497, 0.03], [2019.497, -1.52],
  [2019.529, 0.19], [2019.529, 0.00], [2019.532, -0.19], [2019.573, 0.11], [2019.575, 0.00],
  [2019.594, 0.19], [2019.594, -1.52],
  [2019.641, 0.20], [2019.641, -1.52], [2019.657, -0.03], [2019.666, -0.05], [2019.666, -0.13],
  [2019.670, -0.31], [2019.672, 1.46],
  [2019.707, 0.94], [2019.707, 0.78], [2019.707, 0.61], [2019.710, 0.32], [2019.748, 0.74],
  [2019.748, 0.61], [2019.749, 0.38], [2019.749, -1.52],
  [2019.837, -0.05], [2019.839, -1.52], [2019.866, 1.66], [2019.866, -0.14], [2019.884, 0.09], [2019.886, -1.52],
  [2019.913, 0.90], [2019.913, 0.75], [2019.913, 0.61], [2019.936, 0.85], [2019.936, 0.72], [2019.936, 0.61],
  [2019.946, 0.66], [2019.946, 0.61], [2019.957, -0.08],
  [2020.004, 0.05], [2020.008, 0.93], [2020.008, 0.75], [2020.008, 0.61], [2020.020, 2.22],
  [2020.022, 0.30], [2020.031, 0.74], [2020.031, 0.61], [2020.046, 0.66], [2020.050, 0.66],
  [2020.064, -0.05], [2020.064, -1.52], [2020.066, 2.18], [2020.067, 0.27], [2020.084, 0.38],
  [2020.084, -1.52], [2020.089, 0.72], [2020.089, 0.61], [2020.095, 0.74], [2020.095, 0.53],
  [2020.111, 1.25], [2020.111, 1.05], [2020.111, 0.85], [2020.111, 0.61], [2020.128, -0.23],
  [2020.133, 0.72], [2020.133, 0.66], [2020.137, -1.52], [2020.139, 0.21], [2020.140, 0.00],
  [2020.146, 2.86], [2020.148, 0.85], [2020.148, 0.61], [2020.152, -0.20], [2020.155, -1.52],
  [2020.178, 0.25], [2020.180, 0.13], [2020.193, 0.77], [2020.193, 0.61], [2020.201, 0.66], [2020.201, 0.20],
  [2020.234, 1.70], [2020.234, -0.13], [2020.242, 0.48], [2020.242, 0.30], [2020.242, 0.13],
  [2020.254, 0.62], [2020.290, 0.56], [2020.290, 0.45], [2020.290, 0.35], [2020.290, 0.24],
  [2020.322, 0.00], [2020.322, -1.52], [2020.324, 0.06], [2020.362, 0.04], [2020.362, -1.52],
  [2020.430, 0.08], [2020.503, 1.84], [2020.503, 0.00],
  [2020.613, -0.06], [2020.613, -1.52], [2020.627, -0.05], [2020.628, -1.52], [2020.668, -0.08],
  [2020.668, -1.52], [2020.686, 0.00], [2020.688, -0.27], [2020.695, -1.52], [2020.697, 0.20],
  [2020.742, 0.00], [2020.780, 2.20], [2020.780, 0.28], [2020.786, 0.45], [2020.789, 0.35],
  [2020.823, -0.19], [2020.823, -1.52],
  [2020.888, 1.05], [2020.888, 0.90], [2020.888, 0.75], [2020.888, 0.61], [2020.894, 0.74], [2020.894, 0.61],
  [2020.932, -0.03], [2020.933, -1.52], [2020.936, 0.02], [2020.962, 0.30], [2020.962, -1.52]
];

// Build point lists
const cleaned = [];
function addRun(start, values) {
  values.forEach((v, i) => {
    if (v !== null) cleaned.push({ x: start + i * stepYears, y: v });
  });
}
addRun(runAStart, runA);
addRun(runBStart, runB);
const anomalyPoints = anomalies.map(([x, y]) => ({ x, y }));
// raw data = cleaned readings plus the flagged ones, in time order
const raw = cleaned.concat(anomalyPoints).sort((a, b) => a.x - b.x);

const BLUE = '#1f77b4';
const FONT = 'DejaVu Sans';
const minus = (s) => s.replace('-', '\u2212');

// matplotlib-like frame and centered title over the axes box
const framePlugin = {
  id: 'frame',
  afterDraw(chart, args, opts) {
    const { ctx, chartArea: a } = chart;
    ctx.save();
    ctx.strokeStyle = '#000';
    ctx.lineWidth = 2;
    ctx.strokeRect(a.left, a.top, a.right - a.left, a.bottom - a.top);
    ctx.fillStyle = '#000';
    ctx.font = '31.5px "' + FONT + '"';
    ctx.textAlign = 'center';
    ctx.textBaseline = 'alphabetic';
    ctx.fillText(opts.text, (a.left + a.right) / 2, a.top - 15);
    ctx.restore();
  }
};

function makeOptions(title, yMin, yMax, yTicks, yLabel, padTop, xHeight) {
  const gridStyle = { color: '#b0b0b0', lineWidth: 2, tickColor: '#000', tickWidth: 2, tickLength: 9 };
  return {
    responsive: false,
    animation: false,
    events: [],
    layout: { padding: { left: 0, right: 20, top: padTop, bottom: 0 } },
    plugins: {
      legend: { display: false },
      tooltip: { enabled: false },
      frame: { text: title }
    },
    scales: {
      x: {
        type: 'linear',
        min: 2014.9396,
        max: 2021.261,
        afterBuildTicks: (s) => { s.ticks = yearTicks.map((v) => ({ value: v })); },
        afterFit: (s) => { s.height = xHeight; },
        grid: gridStyle,
        border: { color: '#000', width: 2 },
        ticks: {
          autoSkip: false,
          minRotation: 30,
          maxRotation: 30,
          padding: 9,
          labelOffset: -15,
          color: '#000',
          font: { family: FONT, size: 25 },
          callback: (v) => String(v)
        }
      },
      y: {
        type: 'linear',
        min: yMin,
        max: yMax,
        afterBuildTicks: (s) => { s.ticks = yTicks.map((v) => ({ value: v })); },
        afterFit: (s) => { s.width = 102; },
        grid: gridStyle,
        border: { color: '#000', width: 2 },
        ticks: {
          padding: 9,
          color: '#000',
          font: { family: FONT, size: 25 },
          callback: yLabel
        }
      }
    }
  };
}

const lineStyle = {
  type: 'line',
  borderColor: BLUE,
  borderWidth: 4.2,
  borderJoinStyle: 'round',
  borderCapStyle: 'round',
  pointRadius: 0,
  tension: 0,
  fill: false
};

new Chart(document.getElementById('topChart'), {
  type: 'line',
  data: {
    datasets: [
      { type: 'scatter', data: anomalyPoints, backgroundColor: 'red', borderWidth: 0, pointRadius: 5.5, order: 0 },
      Object.assign({ data: raw, order: 1 }, lineStyle)
    ]
  },
  options: makeOptions('Data and anomalies', -3.87, 3.17, topTicks,
    (v) => minus(String(v)), 59, 92),
  plugins: [framePlugin]
});

new Chart(document.getElementById('bottomChart'), {
  type: 'line',
  data: {
    datasets: [Object.assign({ data: cleaned }, lineStyle)]
  },
  options: makeOptions('Cleaned Data', -0.6295, 0.6795, bottomTicks,
    (v) => minus(v.toFixed(1)), 52, 94),
  plugins: [framePlugin]
});
</script>
</body>
</html>
